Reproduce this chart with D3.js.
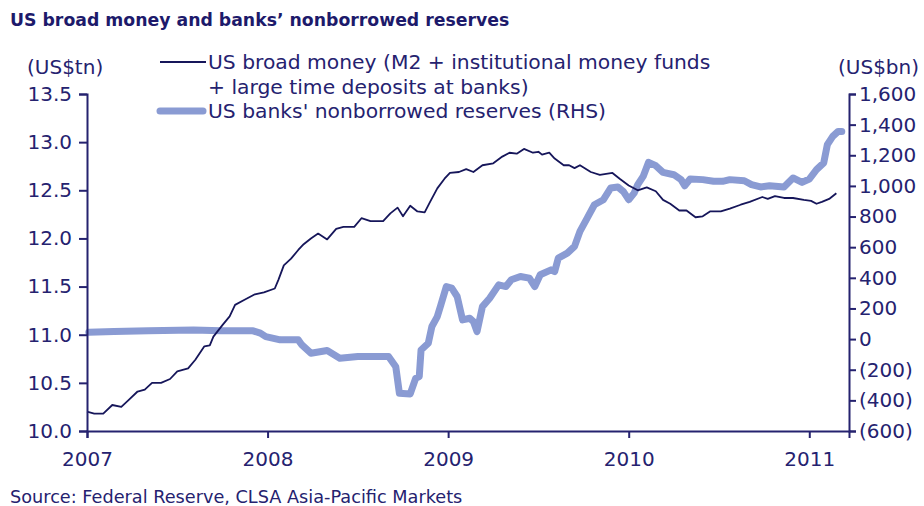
<!DOCTYPE html>
<html>
<head>
<meta charset="utf-8">
<script src="https://cdn.jsdelivr.net/npm/d3@7/dist/d3.min.js"></script>
<style>
  html, body { margin: 0; padding: 0; background: #fff; }
  svg { display: block; }
  text { font-family: "DejaVu Sans", Verdana, sans-serif; fill: #25226f; }
</style>
</head>
<body>
<svg id="chart" width="924" height="506"></svg>
<script>
// ---- Data (decimal years) ----
const xTicks = [2007, 2008, 2009, 2010, 2011];
const leftTicks = [10.0, 10.5, 11.0, 11.5, 12.0, 12.5, 13.0, 13.5];
const rightTicks = [-600, -400, -200, 0, 200, 400, 600, 800, 1000, 1200, 1400, 1600];

const m2Years = [2007.00,2007.04,2007.09,2007.14,2007.19,2007.23,2007.28,2007.32,2007.36,2007.41,2007.46,2007.50,2007.56,2007.60,2007.65,2007.68,2007.70,2007.75,2007.79,2007.82,2007.87,2007.93,2007.98,2008.04,2008.06,2008.09,2008.13,2008.17,2008.20,2008.24,2008.28,2008.33,2008.38,2008.42,2008.48,2008.52,2008.57,2008.64,2008.68,2008.72,2008.75,2008.79,2008.83,2008.87,2008.90,2008.94,2008.98,2009.01,2009.06,2009.10,2009.14,2009.19,2009.25,2009.30,2009.34,2009.38,2009.42,2009.47,2009.50,2009.52,2009.56,2009.59,2009.64,2009.67,2009.70,2009.73,2009.79,2009.84,2009.91,2009.95,2010.00,2010.05,2010.10,2010.15,2010.19,2010.23,2010.28,2010.32,2010.37,2010.41,2010.45,2010.51,2010.56,2010.62,2010.67,2010.74,2010.77,2010.81,2010.86,2010.91,2010.97,2011.01,2011.04,2011.07,2011.11,2011.15];
const m2Values = [10.20,10.18,10.18,10.27,10.25,10.32,10.41,10.43,10.50,10.50,10.54,10.62,10.65,10.74,10.88,10.89,10.98,11.10,11.19,11.31,11.36,11.42,11.44,11.48,11.57,11.72,11.79,11.88,11.94,12.00,12.05,11.99,12.10,12.12,12.12,12.21,12.18,12.18,12.26,12.32,12.23,12.34,12.28,12.27,12.38,12.52,12.62,12.68,12.69,12.72,12.69,12.76,12.78,12.85,12.89,12.88,12.93,12.89,12.90,12.87,12.89,12.83,12.76,12.76,12.73,12.76,12.69,12.66,12.68,12.62,12.55,12.50,12.53,12.49,12.40,12.36,12.29,12.29,12.22,12.23,12.28,12.28,12.31,12.35,12.38,12.43,12.41,12.44,12.42,12.42,12.40,12.39,12.36,12.38,12.41,12.47];

const resYears = [2007.01,2007.15,2007.34,2007.59,2007.74,2007.92,2007.96,2007.99,2008.07,2008.17,2008.19,2008.24,2008.33,2008.40,2008.50,2008.67,2008.71,2008.73,2008.79,2008.82,2008.84,2008.85,2008.89,2008.91,2008.94,2008.96,2008.99,2009.02,2009.05,2009.08,2009.12,2009.14,2009.16,2009.19,2009.23,2009.28,2009.32,2009.35,2009.40,2009.45,2009.48,2009.51,2009.57,2009.59,2009.61,2009.66,2009.70,2009.73,2009.77,2009.81,2009.86,2009.90,2009.94,2009.97,2010.00,2010.03,2010.05,2010.08,2010.11,2010.15,2010.19,2010.25,2010.29,2010.31,2010.34,2010.41,2010.47,2010.52,2010.56,2010.64,2010.68,2010.73,2010.78,2010.86,2010.91,2010.96,2011.00,2011.04,2011.08,2011.10,2011.13,2011.16,2011.18];
const resValues = [45,49,54,60,54,54,39,16,-5,-5,-38,-92,-75,-125,-114,-114,-180,-354,-358,-256,-245,-71,-27,82,147,224,343,333,278,125,136,114,49,212,267,354,343,387,409,398,343,420,452,441,529,561,605,703,790,877,910,986,993,964,910,953,1008,1062,1154,1132,1088,1073,1041,1001,1045,1041,1030,1030,1041,1034,1008,993,1001,993,1052,1023,1045,1106,1150,1269,1323,1356,1356];

const NAVY = "#25226f";
const LINE_DARK = "#16165a";
const LINE_LIGHT = "#8a9bd3";
const FS = "20px";
const FS_LEG = "20.3px";

const svg = d3.select("#chart");

const x = d3.scaleLinear().domain([2007, 2011.22]).range([87, 849]);
const yL = d3.scaleLinear().domain([10, 13.5]).range([431, 94]);
const yR = d3.scaleLinear().domain([-600, 1600]).range([431, 94]);

// Title
svg.append("text").attr("x", 10).attr("y", 26)
  .style("font-weight", "bold").style("font-size", "17.3px").style("fill", "#1d1a6b")
  .text("US broad money and banks\u2019 nonborrowed reserves");

// Unit labels
svg.append("text").attr("x", 27).attr("y", 74).style("font-size", FS).text("(US$tn)");
svg.append("text").attr("x", 838).attr("y", 74).style("font-size", FS).text("(US$bn)");

// Lines
const resData = resYears.map((t, i) => ({t, v: resValues[i]}));
const m2Data = m2Years.map((t, i) => ({t, v: m2Values[i]}));

svg.append("path").datum(resData)
  .attr("fill", "none").attr("stroke", LINE_LIGHT).attr("stroke-width", 7)
  .attr("stroke-linejoin", "round").attr("stroke-linecap", "round")
  .attr("d", d3.line().x(d => x(d.t)).y(d => yR(d.v)));

svg.append("path").datum(m2Data)
  .attr("fill", "none").attr("stroke", LINE_DARK).attr("stroke-width", 1.8)
  .attr("stroke-linejoin", "round")
  .attr("d", d3.line().x(d => x(d.t)).y(d => yL(d.v)));

// Axes
function styleAxis(g) {
  g.select(".domain").attr("stroke", NAVY).attr("stroke-width", 2);
  g.selectAll(".tick line").attr("stroke", NAVY).attr("stroke-width", 2);
  g.selectAll(".tick text").style("font-family", "\"DejaVu Sans\", Verdana, sans-serif")
    .style("font-size", FS).attr("fill", NAVY);
}

const gL = svg.append("g").attr("transform", "translate(87,0)")
  .call(d3.axisLeft(yL).tickValues(leftTicks).tickFormat(d3.format(".1f")).tickSizeOuter(0).tickSize(8).tickPadding(7));
styleAxis(gL);

const fmtR = v => v < 0 ? "(" + d3.format(",")(-v) + ")" : d3.format(",")(v);
const gR = svg.append("g").attr("transform", "translate(849,0)")
  .call(d3.axisRight(yR).tickValues(rightTicks).tickFormat(fmtR).tickSizeOuter(0).tickSize(7).tickPadding(3));
styleAxis(gR);

const gX = svg.append("g").attr("transform", "translate(0,431)")
  .call(d3.axisBottom(x).tickValues(xTicks).tickFormat(d3.format("d")).tickSizeOuter(0).tickSize(7).tickPadding(14));
styleAxis(gX);

// Legend
const lg = svg.append("g");
lg.append("line").attr("x1", 160).attr("x2", 206).attr("y1", 62).attr("y2", 62)
  .attr("stroke", LINE_DARK).attr("stroke-width", 1.8);
lg.append("text").attr("x", 208).attr("y", 69).style("font-size", FS_LEG)
  .text("US broad money (M2 + institutional money funds");
lg.append("text").attr("x", 208).attr("y", 94).style("font-size", FS_LEG)
  .text("+ large time deposits at banks)");
lg.append("line").attr("x1", 160).attr("x2", 203).attr("y1", 111).attr("y2", 111)
  .attr("stroke", LINE_LIGHT).attr("stroke-width", 7).attr("stroke-linecap", "round");
lg.append("text").attr("x", 208).attr("y", 118).style("font-size", FS_LEG)
  .text("US banks' nonborrowed reserves (RHS)");

// Source
svg.append("text").attr("x", 10).attr("y", 503).style("font-size", "17.7px")
  .text("Source: Federal Reserve, CLSA Asia-Pacific Markets");
</script>
</body>
</html>
